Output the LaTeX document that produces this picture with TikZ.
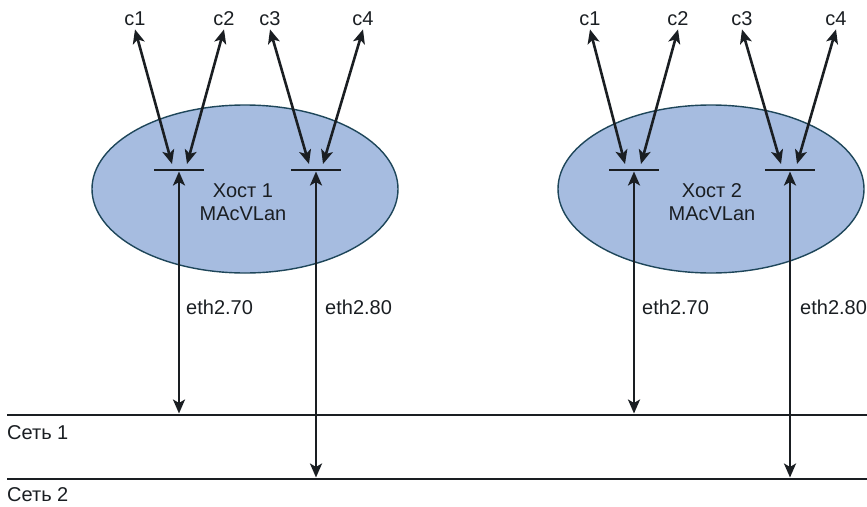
\documentclass[tikz,border=0pt]{standalone}
\usepackage{fontspec}
\setmainfont{Liberation Sans}
\usetikzlibrary{arrows.meta, calc, shapes.geometric, positioning}

\definecolor{hostfill}{RGB}{166,188,224}
\definecolor{hostedge}{RGB}{30,70,90}
\definecolor{ink}{RGB}{26,30,34}

\tikzset{
  hostell/.style={ellipse, draw=hostedge, fill=hostfill, line width=1.4pt,
    minimum width=306pt, minimum height=168pt, inner sep=0pt},
  dblarrow/.style={{Stealth[length=14pt,width=12pt,inset=3.5pt]}-{Stealth[length=14pt,width=12pt,inset=3.5pt]},
    line width=2.6pt, draw=ink},
  netline/.style={line width=2.7pt, draw=ink},
  portbar/.style={line width=2.7pt, draw=ink},
  lbl/.style={font=\fontsize{20}{23.4}\selectfont, text=ink, inner sep=0pt},
}

\begin{document}
\begin{tikzpicture}[x=1pt, y=-1pt]
  \useasboundingbox (0,0) rectangle (867,506);

  % hosts
  \node[hostell] (host1) at (245,189) {};
  \node[hostell] (host2) at (711,189) {};
  \node[lbl, align=center] (host1txt) at (243,202) {Хост 1\\MAcVLan};
  \node[lbl, align=center] (host2txt) at (712,202) {Хост 2\\MAcVLan};

  % ports
  \coordinate (h1p1) at (179,170);
  \coordinate (h1p2) at (316,170);
  \coordinate (h2p1) at (634,170);
  \coordinate (h2p2) at (790,170);
  \foreach \p in {h1p1,h1p2,h2p1,h2p2}
    \draw[portbar] ($(\p)+(-25,0)$) -- ($(\p)+(25,0)$);

  % containers
  \node[lbl, anchor=base] (h1c1) at (135,25) {c1};
  \node[lbl, anchor=base] (h1c2) at (224,25) {c2};
  \node[lbl, anchor=base] (h1c3) at (270,25) {c3};
  \node[lbl, anchor=base] (h1c4) at (363,25) {c4};
  \node[lbl, anchor=base] (h2c1) at (590,25) {c1};
  \node[lbl, anchor=base] (h2c2) at (678,25) {c2};
  \node[lbl, anchor=base] (h2c3) at (742,25) {c3};
  \node[lbl, anchor=base] (h2c4) at (836,25) {c4};

  \coordinate (h1e1) at (172,164);
  \coordinate (h1e2) at (187,164);
  \coordinate (h1e3) at (309,164);
  \coordinate (h1e4) at (323,164);
  \coordinate (h2e1) at (625,164);
  \coordinate (h2e2) at (641,164);
  \coordinate (h2e3) at (781,164);
  \coordinate (h2e4) at (797,164);

  \foreach \h in {1,2}
    \foreach \c in {1,2,3,4}
      \draw[dblarrow] ([yshift=-4pt]h\h c\c.south) -- (h\h e\c);

  % networks
  \coordinate (net1w) at (7,415);
  \coordinate (net1e) at (867,415);
  \coordinate (net2w) at (7,479);
  \coordinate (net2e) at (867,479);
  \draw[netline] (net1w) -- (net1e);
  \draw[netline] (net2w) -- (net2e);
  \node[lbl, anchor=west] (net1lbl) at (7,433) {Сеть 1};
  \node[lbl, anchor=west] (net2lbl) at (7,495) {Сеть 2};

  % uplinks
  \draw[dblarrow] ([yshift=-1.5pt]h1p1) -- ([yshift=1.5pt]h1p1 |- net1w);
  \draw[dblarrow] ([yshift=-1.5pt]h1p2) -- ([yshift=1.5pt]h1p2 |- net2w);
  \draw[dblarrow] ([yshift=-1.5pt]h2p1) -- ([yshift=1.5pt]h2p1 |- net1w);
  \draw[dblarrow] ([yshift=-1.5pt]h2p2) -- ([yshift=1.5pt]h2p2 |- net2w);
  \node[lbl, anchor=west] (h1eth1) at (186,307) {eth2.70};
  \node[lbl, anchor=west] (h1eth2) at (325,307) {eth2.80};
  \node[lbl, anchor=west] (h2eth1) at (642,307) {eth2.70};
  \node[lbl, anchor=west] (h2eth2) at (800,307) {eth2.80};
\end{tikzpicture}
\end{document}
